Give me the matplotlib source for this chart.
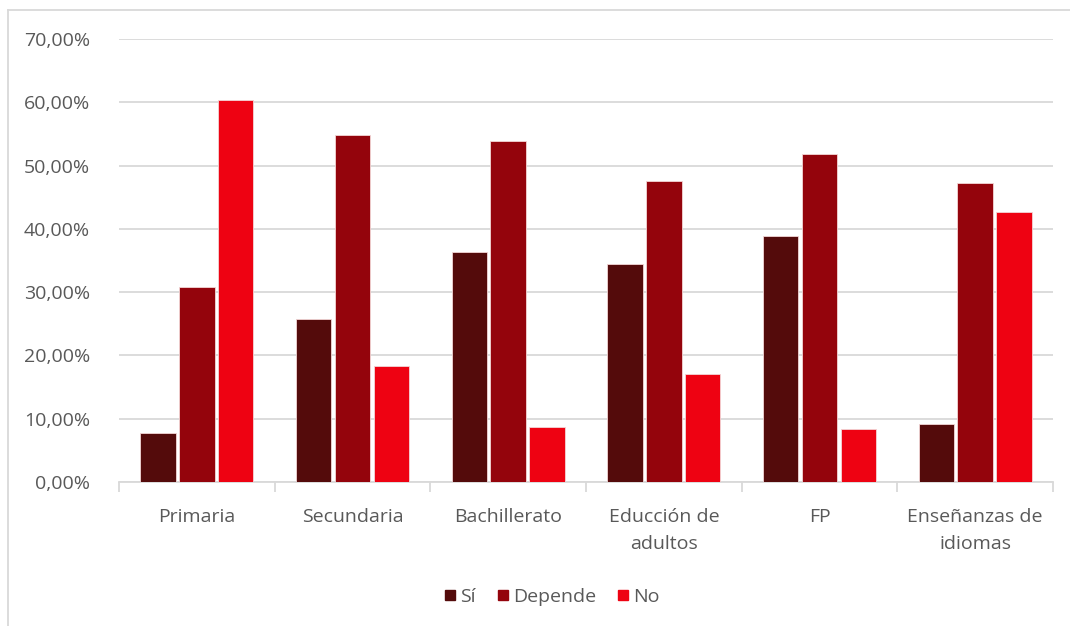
import matplotlib
matplotlib.use("Agg")
import matplotlib.pyplot as plt
import numpy as np
from matplotlib.ticker import FuncFormatter, MultipleLocator
from matplotlib.lines import Line2D

categories = ["Primaria", "Secundaria", "Bachillerato", "Educción de\nadultos", "FP", "Enseñanzas de\nidiomas"]
series_names = ["Sí", "Depende", "No"]
si = [7.8, 25.7, 36.4, 34.4, 38.9, 9.1]
depende = [30.8, 54.9, 53.9, 47.5, 51.8, 47.3]
no = [60.3, 18.4, 8.7, 17.1, 8.3, 42.6]
colors = ["#540B0B", "#94040C", "#EE0212"]

plt.rcParams['font.family'] = ['Open Sans', 'DejaVu Sans']
fig = plt.figure(figsize=(10.7, 6.26), dpi=100)
ax = fig.add_axes([119/1070, 1-482/626, (1053-119)/1070, (482-39)/626])

x = np.arange(len(categories))
step = 0.25
w = 0.228
for i, (vals, name, c) in enumerate(zip([si, depende, no], series_names, colors)):
    ax.bar(x + (i-1)*step, vals, width=w, color=c, edgecolor="#F3D6D6", linewidth=0.6, label=name, zorder=3)

ax.set_xlim(-0.5, len(categories)-0.5)
ax.set_ylim(0, 70)
ax.yaxis.set_major_locator(MultipleLocator(10))
ax.yaxis.set_major_formatter(FuncFormatter(lambda v, p: f"{v:.2f}".replace(".", ",") + "%"))
ax.grid(axis="y", color="#D9D9D9", linewidth=1.3, zorder=0)
for s in ["top", "right", "left"]:
    ax.spines[s].set_visible(False)
ax.spines["bottom"].set_color("#D9D9D9")
ax.spines["bottom"].set_linewidth(1.3)
ax.set_xticks(x)
ax.set_xticklabels(categories, linespacing=1.6)
ax.set_xticks(np.arange(-0.5, len(categories), 1), minor=True)
ax.tick_params(axis="x", which="major", length=0, pad=19, labelsize=14, labelcolor="#595959")
ax.tick_params(axis="x", which="minor", length=7, color="#D9D9D9", width=1.3)
ax.tick_params(axis="y", length=0, pad=21, labelsize=14, labelcolor="#595959")

handles = [Line2D([0], [0], marker="s", linestyle="none", markersize=7, markerfacecolor=c, markeredgecolor=c) for c in colors]
fig.legend(handles, series_names, loc="center", bbox_to_anchor=(550/1070, 1-597/626), ncol=3, frameon=False,
           fontsize=14, labelcolor="#595959", handletextpad=0.0, columnspacing=0.9, handlelength=1.0)

# chart frame (left and top edges visible)
fig.add_artist(Line2D([8/1070, 8/1070], [0, 1-10/626], transform=fig.transFigure, color="#D9D9D9", linewidth=1.3))
fig.add_artist(Line2D([8/1070, 1], [1-10/626, 1-10/626], transform=fig.transFigure, color="#D9D9D9", linewidth=1.3))

fig.savefig("out.png", dpi=100)
